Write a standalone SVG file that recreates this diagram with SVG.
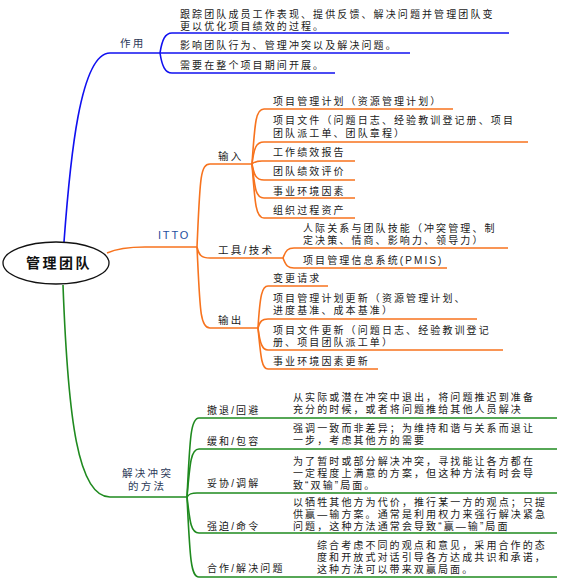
<svg xmlns="http://www.w3.org/2000/svg" width="565" height="584" viewBox="0 0 565 584">
<style>
text{font-family:"Liberation Sans","Noto Sans CJK SC",sans-serif;font-size:10px;letter-spacing:2.1px;fill:#1a1a1a}
.lbl{fill:#2c3a58;font-size:10.5px;letter-spacing:2.3px}
.dk{fill:#1a1a1a}
.itto{fill:#1f4fa0;letter-spacing:1.8px;font-size:11px}
.root{font-size:14px;font-weight:bold;letter-spacing:2.5px;fill:#111}
.b{fill:none;stroke:#1010f0;stroke-width:1.6}
.o{fill:none;stroke:#f7731e;stroke-width:1.6}
.g{fill:none;stroke:#1f8a1f;stroke-width:1.6}
</style>
<rect width="565" height="584" fill="#fff"/>
<g id="connectors">
<path class="b" d="M64 242 C70 160 80 53 110 53 L160 53"/>
<path class="b" d="M160 53 C162 40 165 33 172 33 L509 33"/>
<path class="b" d="M160 53 L410 53"/>
<path class="b" d="M160 53 C162 66 165 73 172 73 L335 73"/>
<path class="o" d="M107 253 C118 248 130 247 145 247 L197 247"/>
<path class="o" d="M197 247 C200 180 200 164 210 164 L252 164"/>
<path class="o" d="M197 247 C199 255 201 258 210 258 L283 258"/>
<path class="o" d="M197 247 C200 310 200 328 210 328 L258 328"/>
<path class="o" d="M252 164 C255 120 256 109 264 109 L453 109"/>
<path class="o" d="M252 164 C254 148 256 142 264 142 L528 142"/>
<path class="o" d="M252 164 C254 162 256 161 262 161 L355 161"/>
<path class="o" d="M252 164 C254 175 256 180 264 180 L355 180"/>
<path class="o" d="M252 164 C255 190 256 198 264 198 L355 198"/>
<path class="o" d="M252 164 C255 205 256 218 264 218 L355 218"/>
<path class="o" d="M283 258 C286 250 288 248 294 248 L508 248"/>
<path class="o" d="M283 258 C286 266 288 268 294 268 L447 268"/>
<path class="o" d="M258 328 C260 295 262 286 268 286 L328 286"/>
<path class="o" d="M258 328 C260 321 262 319 268 319 L477 319"/>
<path class="o" d="M258 328 C260 343 262 350 268 350 L503 350"/>
<path class="o" d="M258 328 C261 360 262 369 268 369 L378 369"/>
<path class="g" d="M63 285 C68 420 78 497 110 497 L187 497"/>
<path class="g" d="M187 497 C190 435 191 418 199 418 L557 418"/>
<path class="g" d="M187 497 C190 462 191 449 199 449 L557 449"/>
<path class="g" d="M187 497 C189 494 191 493 197 493 L557 493"/>
<path class="g" d="M187 497 C190 523 191 533 199 533 L557 533"/>
<path class="g" d="M187 497 C190 560 191 577 199 577 L557 577"/>
</g>
<g id="root">
<ellipse cx="56" cy="263" rx="53" ry="21" fill="#fff" stroke="#111" stroke-width="1.3"/>
<text class="root" x="26" y="268">管理团队</text>
</g>
<g id="role">
<text class="lbl" x="120" y="47">作用</text>
<text x="180" y="18">跟踪团队成员工作表现、提供反馈、解决问题并管理团队变<tspan x="180" dy="12">更以优化项目绩效的过程。</tspan></text>
<text x="180" y="49">影响团队行为、管理冲突以及解决问题。</text>
<text x="180" y="69">需要在整个项目期间开展。</text>
</g>
<g id="itto">
<text class="itto" x="158" y="239">ITTO</text>
</g>
<g id="input">
<text class="lbl dk" x="218" y="160">输入</text>
<text x="273" y="105">项目管理计划（资源管理计划）</text>
<text x="273" y="124">项目文件（问题日志、经验教训登记册、项目<tspan x="273" dy="13">团队派工单、团队章程）</tspan></text>
<text x="273" y="156">工作绩效报告</text>
<text x="273" y="175">团队绩效评价</text>
<text x="273" y="195">事业环境因素</text>
<text x="273" y="214">组织过程资产</text>
</g>
<g id="tools">
<text class="lbl dk" x="218" y="254">工具/技术</text>
<text x="303" y="232">人际关系与团队技能（冲突管理、制<tspan x="303" dy="12">定决策、情商、影响力、领导力）</tspan></text>
<text x="303" y="264">项目管理信息系统(PMIS)</text>
</g>
<g id="output">
<text class="lbl dk" x="218" y="324">输出</text>
<text x="273" y="282">变更请求</text>
<text x="273" y="302">项目管理计划更新（资源管理计划、<tspan x="273" dy="12">进度基准、成本基准）</tspan></text>
<text x="273" y="334">项目文件更新（问题日志、经验教训登记<tspan x="273" dy="12">册、项目团队派工单）</tspan></text>
<text x="273" y="365">事业环境因素更新</text>
</g>
<g id="conflict">
<text class="lbl" x="122" y="477">解决冲突<tspan x="128" dy="13">的方法</tspan></text>
</g>
<g id="withdraw">
<text x="207" y="414">撤退/回避</text>
<text x="293" y="401">从实际或潜在冲突中退出，将问题推迟到准备<tspan x="293" dy="12">充分的时候，或者将问题推给其他人员解决</tspan></text>
</g>
<g id="smooth">
<text x="207" y="445">缓和/包容</text>
<text x="293" y="432">强调一致而非差异；为维持和谐与关系而退让<tspan x="293" dy="12">一步，考虑其他方的需要</tspan></text>
</g>
<g id="compromise">
<text x="207" y="487">妥协/调解</text>
<text x="293" y="465">为了暂时或部分解决冲突，寻找能让各方都在<tspan x="293" dy="12">一定程度上满意的方案，但这种方法有时会导</tspan><tspan x="293" dy="12">致“双输”局面。</tspan></text>
</g>
<g id="force">
<text x="207" y="530">强迫/命令</text>
<text x="293" y="506">以牺牲其他方为代价，推行某一方的观点；只提<tspan x="293" dy="12">供赢—输方案。通常是利用权力来强行解决紧急</tspan><tspan x="293" dy="12">问题，这种方法通常会导致“赢—输”局面</tspan></text>
</g>
<g id="collaborate">
<text x="207" y="572">合作/解决问题</text>
<text x="317" y="549">综合考虑不同的观点和意见，采用合作的态<tspan x="317" dy="12">度和开放式对话引导各方达成共识和承诺，</tspan><tspan x="317" dy="12">这种方法可以带来双赢局面。</tspan></text>
</g>
</svg>
